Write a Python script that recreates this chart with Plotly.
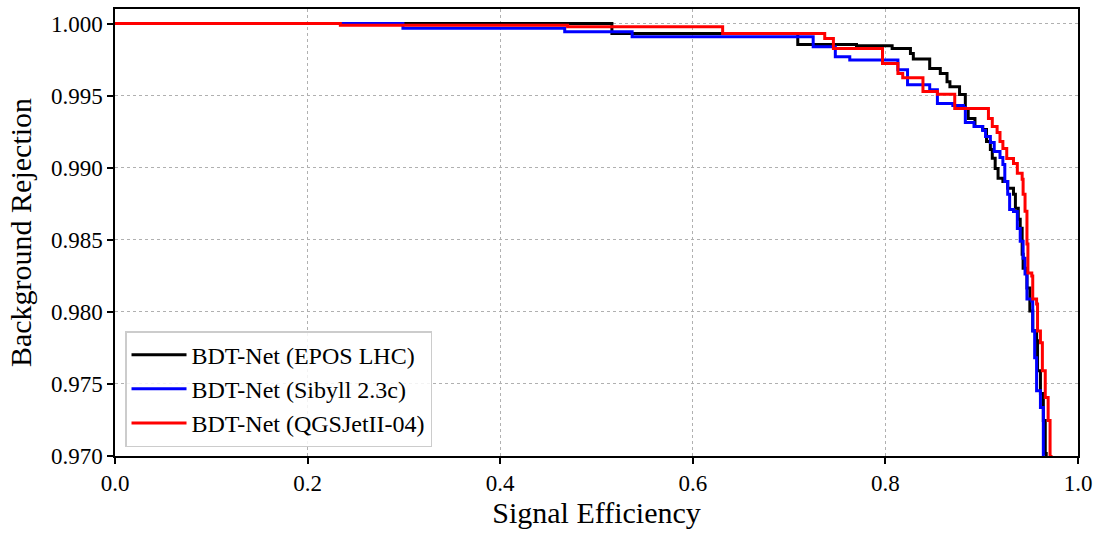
import plotly.graph_objects as go

# ROC curves: signal efficiency vs. background rejection (step points)
eff_epos = [0.0, 0.516, 0.709, 0.770, 0.807, 0.826, 0.829, 0.846, 0.857, 0.864,
            0.867, 0.877, 0.883, 0.886, 0.893, 0.901, 0.905, 0.909, 0.911, 0.914,
            0.917, 0.922, 0.927, 0.933, 0.935, 0.938, 0.940, 0.942, 0.943, 0.947,
            0.950, 0.953, 0.957, 0.958, 0.961, 0.964, 0.966, 0.967]
rej_epos = [1.0, 0.99931, 0.99855, 0.99846, 0.99827, 0.99793, 0.99754, 0.99689, 0.99654, 0.99597,
            0.99562, 0.99507, 0.99410, 0.99341, 0.99286, 0.99265, 0.99182, 0.99127, 0.99065, 0.98995,
            0.98926, 0.98905, 0.98857, 0.98815, 0.98718, 0.98642, 0.98580, 0.98400, 0.98303, 0.98165,
            0.98006, 0.97869, 0.97799, 0.97592, 0.97433, 0.97246, 0.97018, 0.96900]

eff_sibyll = [0.0, 0.299, 0.467, 0.537, 0.725, 0.748, 0.763, 0.813, 0.823, 0.846,
              0.854, 0.870, 0.881, 0.883, 0.892, 0.901, 0.904, 0.909, 0.913, 0.919,
              0.922, 0.924, 0.927, 0.929, 0.933, 0.937, 0.940, 0.943, 0.945, 0.947,
              0.952, 0.953, 0.955, 0.957, 0.961, 0.964]
rej_sibyll = [1.0, 0.99968, 0.99943, 0.99908, 0.99839, 0.99770, 0.99747, 0.99680, 0.99576, 0.99541,
              0.99445, 0.99431, 0.99417, 0.99313, 0.99285, 0.99258, 0.99216, 0.99175, 0.99113, 0.99071,
              0.99022, 0.98905, 0.98815, 0.98710, 0.98696, 0.98579, 0.98489, 0.98372, 0.98262, 0.98089,
              0.98076, 0.97868, 0.97681, 0.97453, 0.97336, 0.96949]

eff_qgsjet = [0.0, 0.234, 0.470, 0.631, 0.737, 0.746, 0.797, 0.813, 0.818, 0.839,
              0.854, 0.872, 0.907, 0.911, 0.916, 0.919, 0.922, 0.926, 0.933, 0.937,
              0.942, 0.943, 0.945, 0.947, 0.948, 0.952, 0.953, 0.957, 0.958, 0.961,
              0.963, 0.966, 0.969, 0.971, 0.972]
rej_qgsjet = [1.0, 0.99988, 0.99977, 0.99931, 0.99896, 0.99827, 0.99723, 0.99654, 0.99624, 0.99528,
              0.99509, 0.99410, 0.99341, 0.99285, 0.99244, 0.99182, 0.99133, 0.99064, 0.99030, 0.98961,
              0.98920, 0.98816, 0.98698, 0.98470, 0.98269, 0.98248, 0.98089, 0.98055, 0.97868, 0.97785,
              0.97592, 0.97405, 0.97246, 0.96997, 0.96900]

series = [
    ("BDT-Net (EPOS LHC)", eff_epos, rej_epos, "#000000"),
    ("BDT-Net (Sibyll 2.3c)", eff_sibyll, rej_sibyll, "#0000ff"),
    ("BDT-Net (QGSJetII-04)", eff_qgsjet, rej_qgsjet, "#ff0000"),
]

FONT = "Liberation Serif"

fig = go.Figure()
for name, x, y, color in series:
    fig.add_trace(go.Scatter(
        x=x, y=y, mode="lines", name=name,
        line=dict(color=color, width=3, shape="hv"),
    ))

axis_common = dict(
    showline=True, linecolor="black", linewidth=1.5, mirror=True,
    ticks="outside", ticklen=6, tickwidth=1.5, tickcolor="black",
    showgrid=True, gridcolor="#b0b0b0", gridwidth=1.3, griddash="dot",
    zeroline=False,
    tickfont=dict(family=FONT, size=23, color="black"),
)

fig.update_xaxes(
    range=[0, 1], tick0=0, dtick=0.2, tickformat=".1f",
    title=dict(text="Signal Efficiency", font=dict(family=FONT, size=30, color="black"), standoff=6),
    **axis_common,
)
fig.update_yaxes(
    range=[0.970, 1.00101], tick0=0.970, dtick=0.005, tickformat=".3f",
    title=dict(text="Background Rejection", font=dict(family=FONT, size=30, color="black"), standoff=10),
    **axis_common,
)

fig.update_layout(
    width=1104, height=534,
    margin=dict(l=115, r=26, t=7, b=78),
    plot_bgcolor="white", paper_bgcolor="white",
    font=dict(family=FONT, color="black"),
    legend=dict(
        x=0.0104, y=0.02, xanchor="left", yanchor="bottom",
        bgcolor="rgba(255,255,255,0.85)", bordercolor="#cccccc", borderwidth=1.5,
        font=dict(family=FONT, size=24, color="black"),
        itemwidth=55, tracegroupgap=0,
    ),
)

fig.write_html("out.html")
